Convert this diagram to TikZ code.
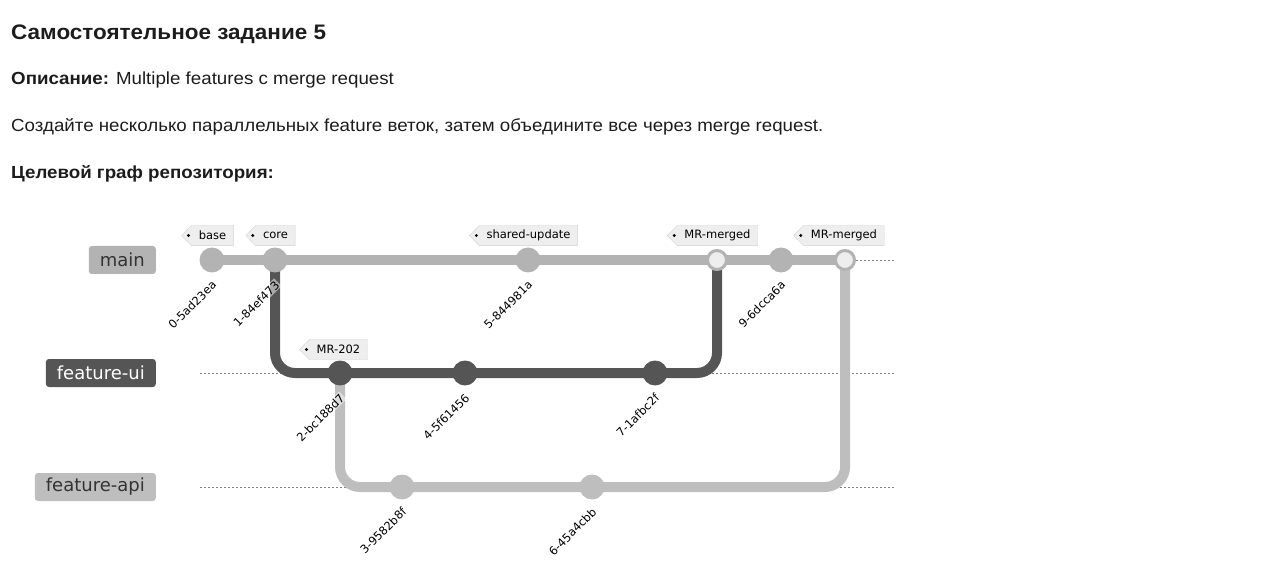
\documentclass[tikz,border=0pt]{standalone}
\usepackage{fontspec}
\setmainfont{Liberation Sans}[FakeStretch=1.07]
\newfontfamily\gitfont{DejaVu Sans}
\usetikzlibrary{backgrounds}

\definecolor{maingray}{HTML}{B3B3B3}
\definecolor{apigray}{HTML}{BEBEBE}
\definecolor{uidark}{HTML}{555555}
\definecolor{tagfill}{HTML}{EEEEEE}
\definecolor{tagline}{HTML}{D4D4D4}
\definecolor{inktext}{HTML}{1C1C1C}
\definecolor{boxtext}{HTML}{333333}

\pgfdeclarelayer{lanes}
\pgfsetlayers{background,lanes,main}

\tikzset{
  commit/.style={circle, fill=#1, minimum size=25pt, inner sep=0pt},
  mergecommit/.style={circle, fill=tagfill, draw=#1, line width=3pt, minimum size=19pt, inner sep=0pt},
  hashlabel/.style={font=\gitfont\fontsize{11.5}{12}\selectfont, rotate=45, anchor=east,
    fill=white, fill opacity=0.5, text opacity=1, inner sep=1pt},
  tagtext/.style={font=\gitfont\fontsize{11.5}{12}\selectfont, inner xsep=7pt, inner ysep=0pt, minimum height=20pt},
  branchbox/.style={font=\gitfont\fontsize{18}{18}\selectfont, rounded corners=3pt, inner xsep=11pt,
    minimum height=28pt, anchor=east},
  lane/.style={line width=10pt, draw=#1},
  guide/.style={draw=gray, line width=0.8pt, dash pattern=on 2pt off 2pt},
  textline/.style={anchor=base west, inner sep=0pt, text=inktext},
}

% tag: name, x, y, text
\newcommand{\gittag}[4]{%
  \node[tagtext] (#1) at (#2,#3) {#4};
  \begin{pgfonlayer}{background}
    \filldraw[fill=tagfill, draw=tagline] (#1.north west) -- (#1.north east) -- (#1.south east)
      -- (#1.south west) -- ([xshift=-10pt]#1.west) -- cycle;
  \end{pgfonlayer}
  \fill ([xshift=-3pt]#1.west) circle (1.6pt);
}

\begin{document}
\begin{tikzpicture}[x=1pt, y=-1pt]
\useasboundingbox (0,0) rectangle (1280,585);

% Text
\node[textline, font=\bfseries\fontsize{21}{21}\selectfont] (title) at (11,39.5) {Самостоятельное задание 5};
\node[textline, font=\fontsize{17.5}{17.5}\selectfont] (descr) at (11,85) {\textbf{Описание:} Multiple features с merge request};
\node[textline, font=\fontsize{17.5}{17.5}\selectfont] (task) at (11,132) {Создайте несколько параллельных feature веток, затем объедините все через merge request.};
\node[textline, font=\bfseries\fontsize{17.5}{17.5}\selectfont] (graph) at (11,179) {Целевой граф репозитория:};

% Branch labels
\node[branchbox, fill=maingray, text=boxtext] (bmain) at (156,260) {main};
\node[branchbox, fill=uidark, text=white] (bui) at (156,373) {feature-ui};
\node[branchbox, fill=apigray, text=boxtext] (bapi) at (156,487) {feature-api};

% Commits
\node[commit=maingray] (c0) at (212,260) {};
\node[commit=maingray] (c1) at (275,260) {};
\node[commit=uidark] (c2) at (340,373) {};
\node[commit=apigray] (c3) at (402,487) {};
\node[commit=uidark] (c4) at (465,373) {};
\node[commit=maingray] (c5) at (528,260) {};
\node[commit=apigray] (c6) at (592,487) {};
\node[commit=uidark] (c7) at (655,373) {};
\node[mergecommit=maingray] (m8) at (717,260) {};
\node[commit=maingray] (c9) at (781,260) {};
\node[mergecommit=maingray] (m10) at (845,260) {};

% Guide ends
\coordinate (gm0) at (200,260);
\coordinate (gm1) at (895,260);
\coordinate (gu0) at (200,373);
\coordinate (gu1) at (895,373);
\coordinate (ga0) at (200,487);
\coordinate (ga1) at (895,487);

% Lanes
\begin{pgfonlayer}{lanes}
\draw[guide] (gm0) -- (gm1);
\draw[guide] (gu0) -- (gu1);
\draw[guide] (ga0) -- (ga1);
\draw[lane=uidark, rounded corners=20pt] (c1.center) |- (c2.center) -- (c4.center) -- (c7.center) -| (m8.center);
\draw[lane=apigray, rounded corners=20pt] (c2.center) |- (c3.center) -- (c6.center) -| (m10.center);
\draw[lane=maingray] (c0.center) -- (m10.center);
\end{pgfonlayer}

% Hashes
\node[hashlabel] (h0) at ([xshift=3pt, yshift=-22pt]c0.center) {0-5ad23ea};
\node[hashlabel] (h1) at ([xshift=3pt, yshift=-22pt]c1.center) {1-84ef473};
\node[hashlabel] (h2) at ([xshift=3pt, yshift=-22pt]c2.center) {2-bc188d7};
\node[hashlabel] (h3) at ([xshift=3pt, yshift=-22pt]c3.center) {3-9582b8f};
\node[hashlabel] (h4) at ([xshift=3pt, yshift=-22pt]c4.center) {4-5f61456};
\node[hashlabel] (h5) at ([xshift=3pt, yshift=-22pt]c5.center) {5-844981a};
\node[hashlabel] (h6) at ([xshift=3pt, yshift=-22pt]c6.center) {6-45a4cbb};
\node[hashlabel] (h7) at ([xshift=3pt, yshift=-22pt]c7.center) {7-1afbc2f};
\node[hashlabel] (h9) at ([xshift=3pt, yshift=-22pt]c9.center) {9-6dcca6a};

% Tags
\gittag{tbase}{212.5}{235.5}{base}
\gittag{tcore}{275.5}{235.5}{core}
\gittag{tshared}{528.5}{235.5}{shared-update}
\gittag{tmr8}{717.5}{235.5}{MR-merged}
\gittag{tmr10}{844}{235.5}{MR-merged}
\gittag{tmr202}{338.5}{349.5}{MR-202}

\end{tikzpicture}
\end{document}
